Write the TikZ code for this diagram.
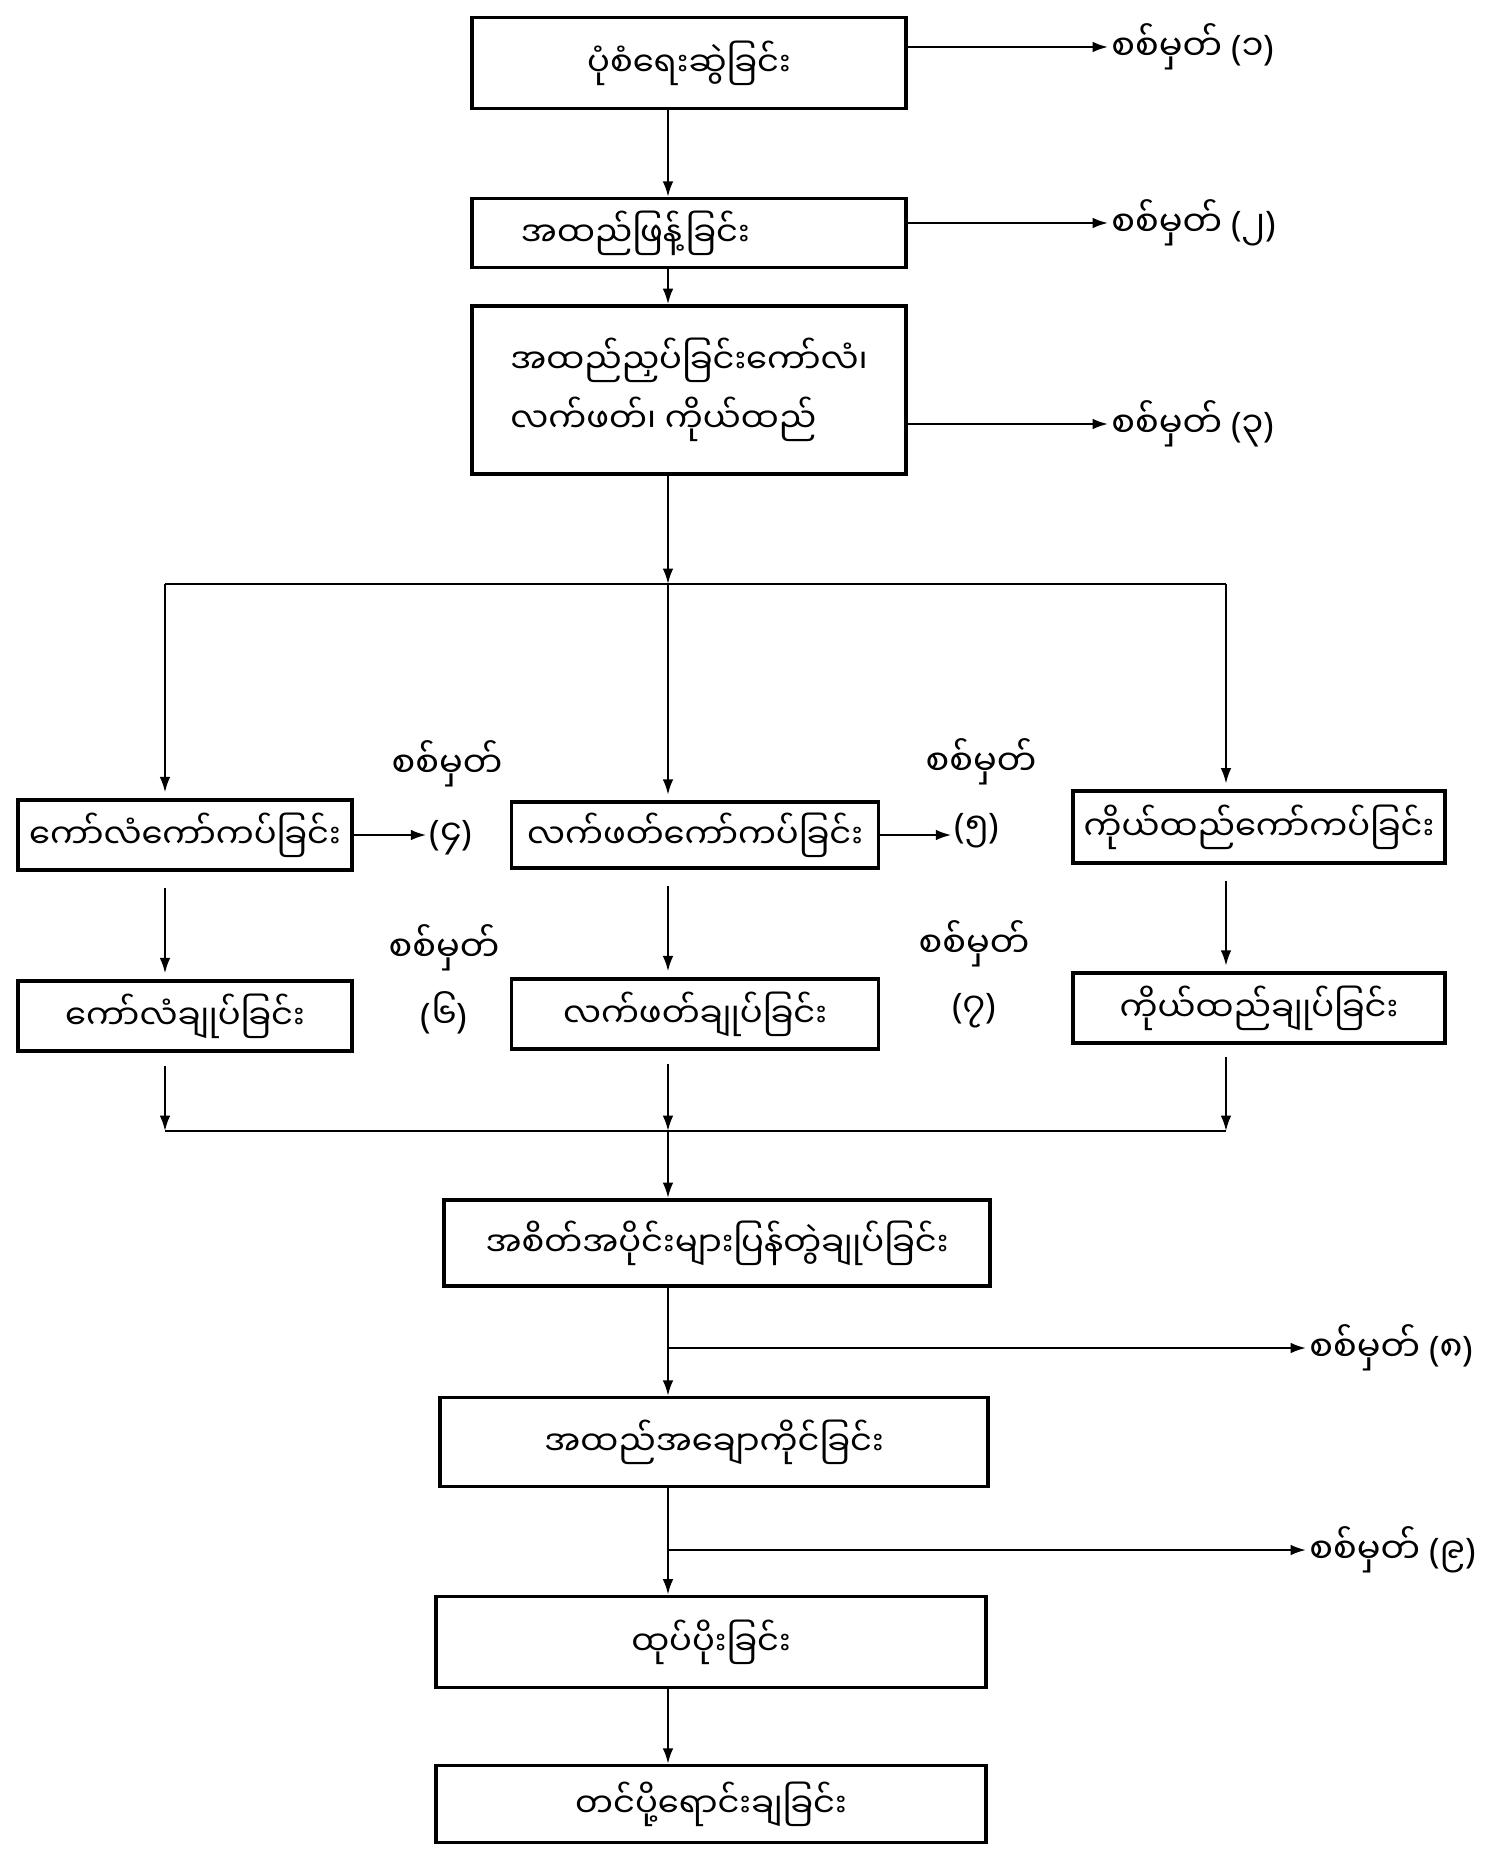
\documentclass[tikz,border=0pt]{standalone}
\usepackage{fontspec}
\usetikzlibrary{arrows.meta}
\newfontfamily\mmfont[Script=Myanmar]{Noto Sans Myanmar UI}
\newfontfamily\latinfont{Noto Sans}
\newcommand\chkno[1]{{\latinfont(}#1{\latinfont)}}

\begin{document}
\begin{tikzpicture}[x=0.0125cm,y=-0.0125cm,
  box/.style={draw,line width=1.3pt,inner sep=2pt,font=\mmfont\fontsize{12}{21}\selectfont},
  lbl/.style={inner sep=1pt,font=\mmfont\fontsize{12.5}{18}\selectfont},
  arr/.style={line width=0.75pt,-{Latex[length=5.5pt,width=3.8pt]}},
  ln/.style={line width=0.75pt}]
\useasboundingbox (0,0) rectangle (1494,1857);
% guide lines
\coordinate (spine) at (668,0);
\coordinate (colL) at (165,0);
\coordinate (colR) at (1226,0);
\coordinate (split) at (0,584);
\coordinate (join) at (0,1131);

% main steps
\node[box,minimum width=5.43cm,minimum height=1.14cm] (pattern) at (689,63) {ပုံစံရေးဆွဲခြင်း};
\node[box,minimum width=5.43cm,minimum height=0.86cm,text width=4.2cm,align=left] (spread) at (689,233) {အထည်ဖြန့်ခြင်း};
\node[box,minimum width=5.43cm,minimum height=2.1cm,align=left] (cutting) at (689,390) {အထည်ညှပ်ခြင်းကော်လံ၊\\လက်ဖတ်၊ ကိုယ်ထည်};

% three branches
\node[box,minimum width=4.18cm,minimum height=0.88cm] (glueL) at (185,835) {ကော်လံကော်ကပ်ခြင်း};
\node[box,minimum width=4.59cm,minimum height=0.82cm] (glueM) at (695,835) {လက်ဖတ်ကော်ကပ်ခြင်း};
\node[box,minimum width=4.65cm,minimum height=0.9cm] (glueR) at (1259,827) {ကိုယ်ထည်ကော်ကပ်ခြင်း};
\node[box,minimum width=4.18cm,minimum height=0.88cm] (sewL) at (185,1016) {ကော်လံချုပ်ခြင်း};
\node[box,minimum width=4.59cm,minimum height=0.88cm] (sewM) at (695,1014) {လက်ဖတ်ချုပ်ခြင်း};
\node[box,minimum width=4.65cm,minimum height=0.87cm] (sewR) at (1259,1008) {ကိုယ်ထည်ချုပ်ခြင်း};

% lower steps
\node[box,minimum width=6.83cm,minimum height=1.08cm] (assemble) at (717,1243) {အစိတ်အပိုင်းများပြန်တွဲချုပ်ခြင်း};
\node[box,minimum width=6.85cm,minimum height=1.11cm] (finish) at (714,1442) {အထည်အချောကိုင်ခြင်း};
\node[box,minimum width=6.88cm,minimum height=1.14cm] (pack) at (711,1642) {ထုပ်ပိုးခြင်း};
\node[box,minimum width=6.88cm,minimum height=0.96cm] (ship) at (711,1804) {တင်ပို့ရောင်းချခြင်း};

% check points
\node[lbl,anchor=west] (chk1) at (1108,47) {စစ်မှတ် \chkno{၁}};
\node[lbl,anchor=west] (chk2) at (1108,223) {စစ်မှတ် \chkno{၂}};
\node[lbl,anchor=west] (chk3) at (1108,424) {စစ်မှတ် \chkno{၃}};
\node[lbl] (chk4t) at (447,764) {စစ်မှတ်};
\node[lbl] (chk4) at (451,838) {\chkno{၄}};
\node[lbl] (chk5t) at (981,762) {စစ်မှတ်};
\node[lbl] (chk5) at (977,831) {\chkno{၅}};
\node[lbl] (chk6t) at (444,948) {စစ်မှတ်};
\node[lbl] (chk6) at (444,1013) {\chkno{၆}};
\node[lbl] (chk7t) at (974,944) {စစ်မှတ်};
\node[lbl] (chk7) at (974,1011) {\chkno{၇}};
\node[lbl,anchor=west] (chk8) at (1306,1348) {စစ်မှတ် \chkno{၈}};
\node[lbl,anchor=west] (chk9) at (1306,1550) {စစ်မှတ် \chkno{၉}};

% flow down the middle
\draw[arr] (pattern.south -| spine) -- (spread.north -| spine);
\draw[arr] (spread.south -| spine) -- (cutting.north -| spine);
\draw[arr] (cutting.south -| spine) -- (spine |- split);
\draw[ln] (colL |- split) -- (colR |- split);
\draw[arr,shorten >=2pt] (colL |- split) -- (glueL.north -| colL);
\draw[arr,shorten >=2pt] (spine |- split) -- (glueM.north -| spine);
\draw[arr,shorten >=2pt] (colR |- split) -- (glueR.north -| colR);
\draw[arr,shorten >=2pt] ([yshift=-0.2cm]glueL.south -| colL) -- (sewL.north -| colL);
\draw[arr,shorten >=2pt] ([yshift=-0.2cm]glueM.south -| spine) -- (sewM.north -| spine);
\draw[arr,shorten >=2pt] ([yshift=-0.2cm]glueR.south -| colR) -- (sewR.north -| colR);
\draw[arr] ([yshift=-0.16cm]sewL.south -| colL) -- (colL |- join);
\draw[arr] ([yshift=-0.16cm]sewM.south -| spine) -- (spine |- join);
\draw[arr] ([yshift=-0.16cm]sewR.south -| colR) -- (colR |- join);
\draw[ln] (colL |- join) -- (colR |- join);
\draw[arr] (spine |- join) -- (assemble.north -| spine);
\draw[arr] (assemble.south -| spine) -- (finish.north -| spine);
\draw[arr] (finish.south -| spine) -- (pack.north -| spine);
\draw[arr] (pack.south -| spine) -- (ship.north -| spine);

% arrows to check points
\draw[arr] (chk1.west -| pattern.east) -- (chk1.west);
\draw[arr] (chk2.west -| spread.east) -- (chk2.west);
\draw[arr] (chk3.west -| cutting.east) -- (chk3.west);
\draw[arr] (glueL.east) -- (glueL.east -| chk4.west);
\draw[arr] (glueM.east) -- (glueM.east -| chk5.west);
\draw[arr] (chk8.west -| spine) -- (chk8.west);
\draw[arr] (chk9.west -| spine) -- (chk9.west);
\end{tikzpicture}
\end{document}
